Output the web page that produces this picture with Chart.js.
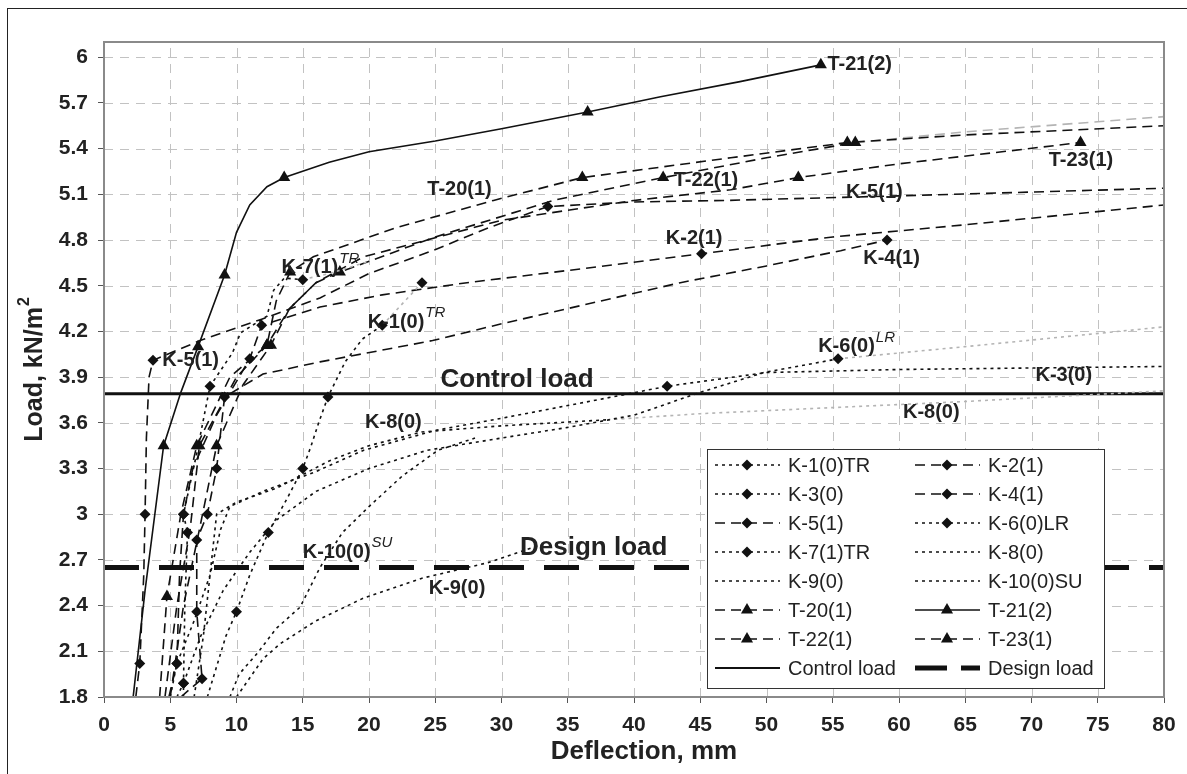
<!DOCTYPE html>
<html>
<head>
<meta charset="utf-8">
<script src="https://cdn.jsdelivr.net/npm/chart.js@4.4.0/dist/chart.umd.min.js"></script>
<style>
  body { margin: 0; background: #fff; }
  canvas { display: block; }
</style>
</head>
<body>
<canvas id="chart" width="1187" height="774"></canvas>
<script>
// axis ticks
var xTicks = [0, 5, 10, 15, 20, 25, 30, 35, 40, 45, 50, 55, 60, 65, 70, 75, 80];
var yTicks = [1.8, 2.1, 2.4, 2.7, 3, 3.3, 3.6, 3.9, 4.2, 4.5, 4.8, 5.1, 5.4, 5.7, 6];

// reference loads, kN/m2
var controlLoad = 3.79;
var designLoad = 2.65;

// load-deflection curves [deflection mm, load kN/m2]
var k1 = [[7.8,1.8],[8.5,2.0],[9.2,2.2],[10.0,2.36],[11,2.6],[12.4,2.88],[13.8,3.1],[15.0,3.3],[15.6,3.44],[16.2,3.6],[16.9,3.77],[18.2,4.0],[19.5,4.15],[21.0,4.24],[24.0,4.52]];
var k2 = [[4.9,1.8],[5.5,2.02],[5.7,2.6],[6.0,3.0],[6.7,3.3],[8.5,3.65],[11.0,4.02],[11.9,4.24],[16.3,4.36],[21,4.44],[27.4,4.52],[35,4.6],[45.1,4.71],[55,4.82],[65,4.9],[80,5.03]];
var k3 = [[5.0,1.8],[5.5,2.02],[6.8,2.3],[8.0,2.6],[8.8,2.9],[9.5,3.05],[12,3.15],[16,3.28],[19.6,3.42],[25,3.55],[30,3.63],[36,3.73],[42.5,3.84],[50,3.93],[60,3.95],[80,3.97]];
var k4 = [[5.8,1.8],[7.4,1.92],[7.0,2.36],[7.0,2.83],[7.8,3.0],[8.5,3.3],[9.1,3.77],[12,3.92],[16.3,4.0],[24.8,4.14],[30,4.25],[36,4.37],[43.5,4.52],[50,4.63],[55.6,4.73],[59.1,4.8]];
var k5 = [[2.4,1.8],[2.7,2.02],[3.0,2.6],[3.1,3.0],[3.2,3.5],[3.4,3.9],[3.7,4.01],[7.25,4.14],[11.9,4.28],[16.3,4.42],[20,4.58],[24.8,4.73],[29,4.88],[33.5,5.02],[40,5.05],[47,5.06],[60,5.09],[80,5.14]];
var k6 = [[6.0,1.8],[6.0,1.89],[7.3,2.2],[9,2.5],[11,2.75],[13,2.96],[16,3.15],[20,3.3],[24.4,3.42],[30,3.5],[35,3.57],[40,3.65],[45,3.8],[49.8,3.93],[55.4,4.02],[65,4.1],[80,4.23]];
var k7 = [[5.5,1.8],[6.0,1.89],[6.1,2.4],[6.3,2.88],[6.0,3.0],[7.0,3.4],[8.0,3.84],[9.7,4.06],[10.3,4.19],[12.3,4.3],[12.8,4.47],[13.6,4.55],[15.0,4.54],[17,4.58],[20,4.66]];
var k8 = [[6.8,1.8],[7.5,2.2],[8.0,2.6],[8.5,3.0],[10,3.08],[13,3.17],[17,3.35],[20,3.45],[24,3.54],[30,3.58],[38,3.62],[45,3.66],[55,3.7],[65,3.74],[80,3.81]];
var k9 = [[10,1.8],[12,2.05],[13.3,2.15],[16,2.3],[19.6,2.45],[24,2.58],[28.9,2.68],[33,2.8]];
var k10 = [[9.5,1.8],[10.2,1.95],[11.6,2.09],[13,2.25],[14.8,2.39],[16.3,2.65],[18,2.88],[20,3.05],[22.5,3.25],[25.2,3.42],[28,3.5]];
var t20 = [[4.2,1.8],[4.75,2.46],[5.8,3.0],[7.0,3.45],[9.5,3.9],[12.3,4.11],[13,4.4],[14.05,4.59],[15.8,4.69],[22,4.88],[29.4,5.06],[36.1,5.21],[47.3,5.34],[56.1,5.44],[65,5.49],[80,5.55]];
var t21 = [[2.2,1.8],[3.1,2.5],[4.5,3.45],[5.8,3.8],[7.1,4.1],[9.1,4.57],[10.0,4.85],[11.0,5.03],[12.3,5.15],[13.6,5.21],[17,5.31],[20,5.38],[25,5.45],[30,5.53],[36.5,5.64],[42,5.74],[48,5.84],[54.1,5.95]];
var t22 = [[5.0,1.8],[6,2.4],[7.2,2.9],[8.5,3.45],[10.5,3.85],[12.6,4.11],[14,4.35],[16,4.52],[17.8,4.59],[25,4.82],[33.9,5.06],[42.2,5.21],[50,5.34],[56.7,5.44],[65,5.51],[80,5.61]];
var t23 = [[4.6,1.8],[5.5,2.4],[6.5,2.9],[7.2,3.45],[10,3.9],[12.3,4.11],[14,4.35],[16,4.52],[19.6,4.69],[30,4.93],[40,5.06],[47.3,5.13],[52.4,5.21],[60,5.3],[73.7,5.44]];

// which points carry a marker
var k1Marks = [3, 5, 7, 10, 13, 14];
var k2Marks = [1, 3, 6, 7, 12];
var k3Marks = [1, 12];
var k4Marks = [1, 2, 3, 4, 5, 6, 15];
var k5Marks = [1, 3, 6, 13];
var k6Marks = [1, 14];
var k7Marks = [1, 3, 4, 6, 12];
var t20Marks = [1, 3, 5, 7, 11, 13];
var t21Marks = [2, 4, 5, 9, 14, 17];
var t22Marks = [3, 5, 8, 11, 13];
var t23Marks = [3, 5, 12, 14];

var series = [
    { label: 'K-1(0)TR', data: k1, line: 'dot', marker: 'rectRot', marks: k1Marks, grayFrom: 13 },
    { label: 'K-2(1)', data: k2, line: 'dash', marker: 'rectRot', marks: k2Marks },
    { label: 'K-3(0)', data: k3, line: 'dot', marker: 'rectRot', marks: k3Marks },
    { label: 'K-4(1)', data: k4, line: 'dash', marker: 'rectRot', marks: k4Marks },
    { label: 'K-5(1)', data: k5, line: 'dash', marker: 'rectRot', marks: k5Marks },
    { label: 'K-6(0)LR', data: k6, line: 'dot', marker: 'rectRot', marks: k6Marks, grayFrom: 14 },
    { label: 'K-7(1)TR', data: k7, line: 'dot', marker: 'rectRot', marks: k7Marks, grayFrom: 12 },
    { label: 'K-8(0)', data: k8, line: 'dot', marker: null, marks: [], grayFrom: 10 },
    { label: 'K-9(0)', data: k9, line: 'dot', marker: null, marks: [] },
    { label: 'K-10(0)SU', data: k10, line: 'dot', marker: null, marks: [] },
    { label: 'T-20(1)', data: t20, line: 'dash', marker: 'triangle', marks: t20Marks },
    { label: 'T-21(2)', data: t21, line: 'solid', marker: 'triangle', marks: t21Marks },
    { label: 'T-22(1)', data: t22, line: 'dash', marker: 'triangle', marks: t22Marks, grayFrom: 13 },
    { label: 'T-23(1)', data: t23, line: 'dash', marker: 'triangle', marks: t23Marks }
];

var dashes = { dot: [3, 4], dash: [10, 6], solid: [] };
var ink = '#111';
var gray = '#b4b4b4';

function toPoints(pairs) {
    return pairs.map(function (p) { return { x: p[0], y: p[1] }; });
}

function makeDataset(s) {
    return {
        label: s.label,
        data: toPoints(s.data),
        showLine: true,
        borderColor: ink,
        borderWidth: 1.6,
        borderDash: dashes[s.line],
        backgroundColor: ink,
        pointStyle: s.marker || 'circle',
        pointBorderWidth: 0,
        pointBackgroundColor: ink,
        pointRadius: function (c) {
            if (!s.marker || s.marks.indexOf(c.dataIndex) < 0) return 0;
            return s.marker == 'triangle' ? 7 : 5.5;
        },
        segment: {
            borderColor: function (c) {
                return s.grayFrom != null && c.p0DataIndex >= s.grayFrom ? gray : ink;
            }
        }
    };
}

var datasets = series.map(makeDataset);
datasets.push({
    label: 'Control load',
    data: [{ x: 0, y: controlLoad }, { x: 80, y: controlLoad }],
    showLine: true, borderColor: ink, borderWidth: 3, pointRadius: 0
});
datasets.push({
    label: 'Design load',
    data: [{ x: 0, y: designLoad }, { x: 80, y: designLoad }],
    showLine: true, borderColor: ink, borderWidth: 5, borderDash: [35, 20], pointRadius: 0
});

// text written on the plot [text, x, y, superscript]
var notes = [
    ['T-21(2)', 54.6, 5.95, ''],
    ['T-20(1)', 24.4, 5.13, ''],
    ['T-22(1)', 43.0, 5.19, ''],
    ['K-5(1)', 56.0, 5.11, ''],
    ['T-23(1)', 71.3, 5.32, ''],
    ['K-2(1)', 42.4, 4.81, ''],
    ['K-4(1)', 57.3, 4.68, ''],
    ['K-7(1)', 13.4, 4.62, 'TR'],
    ['K-5(1)', 4.4, 4.01, ''],
    ['K-1(0)', 19.9, 4.26, 'TR'],
    ['K-8(0)', 19.7, 3.60, ''],
    ['K-6(0)', 53.9, 4.10, 'LR'],
    ['K-3(0)', 70.3, 3.91, ''],
    ['K-8(0)', 60.3, 3.67, ''],
    ['K-10(0)', 15.0, 2.75, 'SU'],
    ['K-9(0)', 24.5, 2.51, '']
];
var bigNotes = [
    ['Control load', 25.4, 3.88],
    ['Design load', 31.4, 2.78]
];

var FONT = 'Arial, "Liberation Sans", sans-serif';

var grid = {
    id: 'dashedGrid',
    beforeDatasetsDraw: function (chart) {
        var ctx = chart.ctx;
        var xs = chart.scales.x, ys = chart.scales.y;
        var a = chart.chartArea;
        ctx.save();
        ctx.strokeStyle = '#c2c2c2';
        ctx.lineWidth = 1;
        ctx.setLineDash([9, 7]);
        xTicks.forEach(function (v) {
            var px = Math.round(xs.getPixelForValue(v)) + 0.5;
            ctx.beginPath();
            ctx.moveTo(px, a.bottom);
            ctx.lineTo(px, a.top);
            ctx.stroke();
        });
        yTicks.forEach(function (v) {
            var py = Math.round(ys.getPixelForValue(v)) + 0.5;
            ctx.beginPath();
            ctx.moveTo(a.left, py);
            ctx.lineTo(a.right, py);
            ctx.stroke();
        });
        ctx.restore();
    }
};

var decor = {
    id: 'decor',
    afterDatasetsDraw: function (chart) {
        var ctx = chart.ctx;
        var xs = chart.scales.x, ys = chart.scales.y;
        var a = chart.chartArea;
        ctx.save();

        // plot frame
        ctx.strokeStyle = '#8a8a8a';
        ctx.lineWidth = 2;
        ctx.setLineDash([]);
        ctx.strokeRect(a.left, a.top, a.right - a.left, a.bottom - a.top);

        // outer frame
        ctx.strokeStyle = '#222';
        ctx.lineWidth = 1;
        ctx.strokeRect(7.5, 8.5, 1300, 900);

        // notes
        ctx.fillStyle = '#222';
        ctx.textBaseline = 'middle';
        ctx.textAlign = 'left';
        notes.forEach(function (n) {
            var px = xs.getPixelForValue(n[1]);
            var py = ys.getPixelForValue(n[2]);
            ctx.font = 'bold 20px ' + FONT;
            ctx.fillText(n[0], px, py);
            if (n[3]) {
                var w = ctx.measureText(n[0]).width;
                ctx.font = 'italic 15px ' + FONT;
                ctx.fillText(n[3], px + w + 1, py - 9);
            }
        });
        ctx.font = 'bold 26px ' + FONT;
        bigNotes.forEach(function (n) {
            ctx.fillText(n[0], xs.getPixelForValue(n[1]), ys.getPixelForValue(n[2]));
        });

        // axis titles
        ctx.textAlign = 'center';
        ctx.font = 'bold 26px ' + FONT;
        ctx.fillText('Deflection, mm', 644, 752);

        ctx.save();
        ctx.translate(35, 370);
        ctx.rotate(-Math.PI / 2);
        ctx.font = 'bold 25px ' + FONT;
        var main = 'Load, kN/m';
        var mw = ctx.measureText(main).width;
        ctx.font = 'bold 16px ' + FONT;
        var sw = ctx.measureText('2').width;
        ctx.textAlign = 'left';
        ctx.font = 'bold 25px ' + FONT;
        ctx.fillText(main, -(mw + sw) / 2, 0);
        ctx.font = 'bold 16px ' + FONT;
        ctx.fillText('2', -(mw + sw) / 2 + mw + 1, -10);
        ctx.restore();

        // legend
        var lx = 707, ly = 449, lw = 397, lh = 239;
        ctx.fillStyle = '#fff';
        ctx.fillRect(lx, ly, lw, lh);
        ctx.strokeStyle = '#333';
        ctx.lineWidth = 1;
        ctx.strokeRect(lx + 0.5, ly + 0.5, lw, lh);

        ctx.font = '20px ' + FONT;
        ctx.textAlign = 'left';
        chart.data.datasets.forEach(function (ds, i) {
            var col = i % 2, row = Math.floor(i / 2);
            var x0 = 715 + col * 200;
            var y0 = 465 + row * 29;
            ctx.strokeStyle = ink;
            ctx.lineWidth = ds.borderWidth > 2 ? ds.borderWidth : 1.6;
            if (ds.label == 'Control load') ctx.lineWidth = 2;
            var dash = ds.borderDash || [];
            if (ds.label == 'Design load') dash = [32, 14];
            ctx.setLineDash(dash);
            ctx.beginPath();
            ctx.moveTo(x0, y0);
            ctx.lineTo(x0 + 65, y0);
            ctx.stroke();
            ctx.setLineDash([]);
            var s = series[i];
            if (s && s.marker) {
                ctx.fillStyle = ink;
                Chart.helpers.drawPoint(ctx, {
                    pointStyle: s.marker, rotation: 0,
                    radius: s.marker == 'triangle' ? 7 : 5.5, borderWidth: 0
                }, x0 + 32, y0);
            }
            ctx.fillStyle = '#222';
            ctx.fillText(ds.label, x0 + 73, y0 + 1);
        });

        ctx.restore();
    }
};

function fixedTicks(list) {
    return function (scale) {
        scale.ticks = list.map(function (v) { return { value: v }; });
    };
}

var ctx = document.getElementById('chart').getContext('2d');

var chart = new Chart(ctx, {
    type: 'scatter',
    data: { datasets: datasets },
    options: {
        responsive: false,
        animation: false,
        devicePixelRatio: 1,
        layout: { padding: { top: 42, right: 23, left: 0, bottom: 0 } },
        plugins: { legend: { display: false }, tooltip: { enabled: false } },
        elements: { line: { tension: 0 } },
        scales: {
            x: {
                type: 'linear', min: 0, max: 80,
                afterBuildTicks: fixedTicks(xTicks),
                afterFit: function (scale) { scale.height = 77; },
                grid: { drawOnChartArea: false, tickLength: 6, tickColor: '#555', tickBorderDash: [] },
                border: { display: false },
                ticks: {
                    font: { family: FONT, size: 21, weight: 'bold' }, color: '#222',
                    padding: 10, maxRotation: 0, autoSkip: false,
                    callback: function (v) { return String(v); }
                }
            },
            y: {
                type: 'linear', min: 1.8, max: 6.1,
                afterBuildTicks: fixedTicks(yTicks),
                afterFit: function (scale) { scale.width = 104; },
                grid: { drawOnChartArea: false, tickLength: 6, tickColor: '#555', tickBorderDash: [] },
                border: { display: false },
                ticks: {
                    font: { family: FONT, size: 21, weight: 'bold' }, color: '#222',
                    padding: 10, autoSkip: false,
                    callback: function (v) { return String(v); }
                }
            }
        }
    },
    plugins: [grid, decor]
});
</script>
</body>
</html>
